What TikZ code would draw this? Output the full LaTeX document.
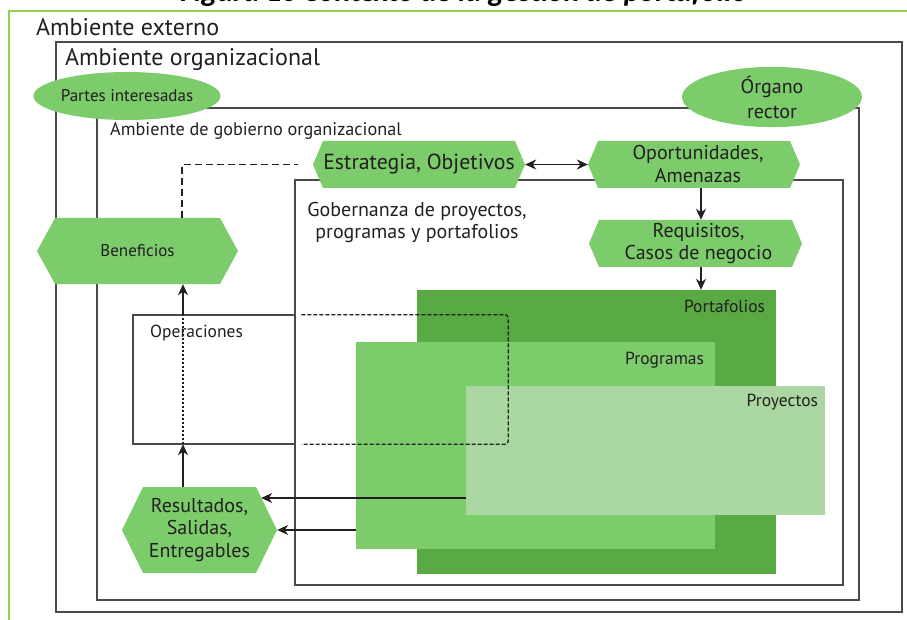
\documentclass[tikz,border=0pt]{standalone}
\usepackage{fontspec}
\setmainfont{PT Sans}
\newfontfamily\titlefont{Carlito}
\usetikzlibrary{shapes.geometric,arrows.meta,calc}

\definecolor{leaf}{HTML}{7CCC6C}
\definecolor{forest}{HTML}{59AA45}
\definecolor{mint}{HTML}{AAD6A1}
\definecolor{frame}{HTML}{92D050}
\definecolor{ink}{HTML}{231F20}
\definecolor{rule}{HTML}{4A4A4A}

% font size and baseline skip, both in pt
\newcommand\fsz[2]{\fontsize{#1pt}{#2pt}\selectfont}
\def\hexslant{10}

\tikzset{
  box/.style={draw=rule, line width=1.5pt, inner sep=0pt},
  hexslant/.store in=\hexslant,
  hexa/.style={inner sep=0pt, align=center, text=ink,
    path picture={\fill[leaf]
      (path picture bounding box.west)
      -- ([xshift=\hexslant pt]path picture bounding box.north west)
      -- ([xshift=-\hexslant pt]path picture bounding box.north east)
      -- (path picture bounding box.east)
      -- ([xshift=-\hexslant pt]path picture bounding box.south east)
      -- ([xshift=\hexslant pt]path picture bounding box.south west)
      -- cycle;}},
  oval/.style={ellipse, fill=leaf, inner sep=0pt, align=center, text=ink},
  layer/.style={inner sep=0pt, minimum width=359pt},
  txt/.style={inner sep=0pt, text=ink, align=center},
  arr/.style={draw=ink, line width=1.3pt, -{Stealth[length=11pt, width=10pt, inset=3.5pt]}},
  dblarr/.style={draw=ink, line width=1.3pt, {Stealth[length=11pt, width=10pt, inset=3.5pt]}-{Stealth[length=11pt, width=10pt, inset=3.5pt]}},
  longdash/.style={draw=ink, line width=1.3pt, dash pattern=on 7pt off 4pt},
  shortdash/.style={draw=ink, line width=1.3pt, dash pattern=on 4pt off 2pt, rounded corners=3pt},
  dotline/.style={draw=ink, line width=1.2pt, dash pattern=on 2.5pt off 1.5pt},
}

\begin{document}
\begin{tikzpicture}[x=1pt, y=-1pt]
\useasboundingbox (0,0) rectangle (907,620);
\clip (0,0) rectangle (907,620);

% caption, cut off by the top edge
\node[inner sep=0pt, anchor=base, text=black,
      font=\titlefont\bfseries\itshape\fsz{30}{34}] (title) at (464,1.5)
  {Figura 10 Contexto de la gestión de portafolio};

% light green frame
\coordinate (fbl) at (9,620);
\coordinate (ftl) at (9,11);
\coordinate (ftr) at (907,11);
\draw[frame, line width=2pt] (fbl) -- (ftl) -- (ftr);

% nested environments
\node[box, minimum width=846pt, minimum height=570pt] (org) at (479,327) {};
\node[box, minimum width=762pt, minimum height=492pt] (gov) at (478,354) {};
\node[box, minimum width=548pt, minimum height=405pt] (gob) at (569,382.5) {};

% stakeholder ovals
\node[oval, minimum width=182pt, minimum height=48pt, font=\fsz{17}{20}] (partes) at (127,96) {Partes interesadas};
\node[oval, minimum width=180pt, minimum height=49pt, font=\fsz{20}{25}] (organo) at (772,97) {Órgano\\rector};

% portfolio, programme and project layers
\node[layer, fill=forest, minimum height=284pt] (port) at (596.5,432) {};
\node[layer, fill=leaf,   minimum height=207pt] (prog) at (535.5,445.5) {};
\node[layer, fill=mint,   minimum height=129pt] (proy) at (645.5,450.5) {};

% operations area
\node[inner sep=0pt, minimum width=375pt, minimum height=129pt] (ops) at (320.5,379.5) {};
\draw[draw=rule, line width=1.5pt] (gob.west |- ops.north) -- (ops.north west) -- (ops.south west) -- (gob.west |- ops.south);
\draw[shortdash] ($(gob.west |- ops.north)+(7,0)$) -- (ops.north east) -- (ops.south east) -- ($(gob.west |- ops.south)+(7,0)$);

% hexagonal stages
\node[hexa, hexslant=10, minimum width=212pt, minimum height=47pt, font=\fsz{21.8}{26}] (est) at (419,164.5) {Estrategia, Objetivos};
\node[hexa, hexslant=10, minimum width=212pt, minimum height=47pt, font=\fsz{20}{23}] (opo) at (694,164.5) {\hspace*{8pt}Oportunidades,\\\hspace*{8pt}Amenazas};
\node[hexa, hexslant=10, minimum width=213pt, minimum height=47pt, font=\fsz{20}{22}] (req) at (695.5,243.5) {\hspace*{6pt}Requisitos,\\\hspace*{6pt}Casos de negocio};
\node[hexa, hexslant=18, minimum width=201pt, minimum height=66pt, font=\fsz{17}{20}] (ben) at (137.5,251) {Beneficios};
\node[hexa, hexslant=21, minimum width=155pt, minimum height=86pt, font=\fsz{20}{22.5}] (res) at (199.5,530) {Resultados,\\Salidas,\\Entregables};

% connectors
\draw[dblarr] (est.east) -- (opo.west);
\path ($(opo.south)+(7,0)$) coordinate (oq);
\draw[arr] (oq) -- (oq |- req.north);
\path ($(req.south)+(5.5,0)$) coordinate (rq);
\draw[arr] (rq) -- (rq |- port.north);
\path ($(ben.north)+(44.5,0)$) coordinate (bq);
\draw[longdash, shorten >=15pt] (bq) -- (bq |- est.west) -- (est.west);
\path ($(res.north)+(-16.5,0)$) coordinate (sq);
\draw[arr] (sq) -- (sq |- ops.south);
\draw[dotline] (sq |- ops.south) -- (sq |- ops.north);
\draw[arr] (sq |- ops.north) -- (sq |- ben.south);
\path ($(proy.west)+(0,47.5)$) coordinate (pq);
\path ($(res.east)+(-16,0)$) coordinate (re);
\draw[arr] (pq) -- (pq -| re);
\draw[arr] (prog.west |- res.east) -- (res.east);

% labels
\node[txt, anchor=west, font=\fsz{24}{28}] (lext) at (36,27) {Ambiente externo};
\node[txt, anchor=west, font=\fsz{24}{28}] (lorg) at (65,60) {Ambiente organizacional};
\node[txt, anchor=west, font=\fsz{18.2}{22}] (lgov) at (110,131) {Ambiente de gobierno organizacional};
\node[txt, font=\fsz{20}{22}] (lgob) at (417,223) {Gobernanza de proyectos,\\programas y portafolios};
\node[txt, anchor=west, font=\fsz{17.5}{20}] (lops) at (150,333) {Operaciones};
\node[txt, anchor=east, font=\fsz{17.5}{20}] (lport) at ($(port.north east)+(-11,17)$) {Portafolios};
\node[txt, anchor=east, font=\fsz{17.5}{20}] (lprog) at ($(prog.north east)+(-11,18)$) {Programas};
\node[txt, anchor=east, font=\fsz{17.5}{20}] (lproy) at ($(proy.north east)+(-7,16)$) {Proyectos};
\end{tikzpicture}
\end{document}
